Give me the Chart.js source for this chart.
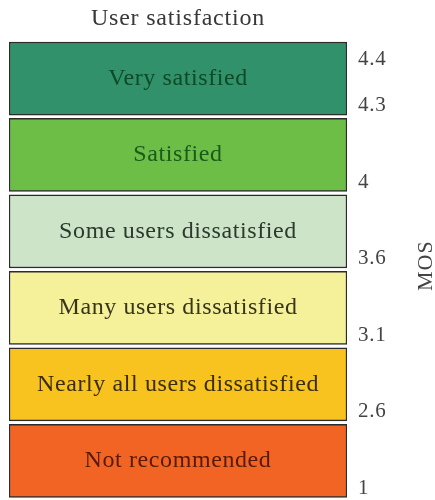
<!DOCTYPE html>
<html>
<head>
<meta charset="utf-8">
<script src="https://cdn.jsdelivr.net/npm/chart.js@4/dist/chart.umd.min.js"></script>
<style>
  html, body { margin: 0; padding: 0; background: #fff; }
  canvas { display: block; }
</style>
</head>
<body>
<canvas id="mosChart" width="435" height="500"></canvas>
<script>
// satisfaction bands, top to bottom
const bands = ['Very satisfied', 'Satisfied', 'Some users dissatisfied',
               'Many users dissatisfied', 'Nearly all users dissatisfied', 'Not recommended'];
// each band covers one level on the y axis: [lower, upper]
const bandLow  = [5, 4, 3, 2, 1, 0];
const bandHigh = [6, 5, 4, 3, 2, 1];
// MOS tick labels and the level they sit at
const mosLabels = ['1', '2.6', '3.1', '3.6', '4', '4.3', '4.4'];
const mosLevels = [0, 1, 2, 3, 4, 5, 5.6];

const fillColors = ['#30916a', '#6cbe46', '#cde4c8', '#f5f09a', '#f8c31e', '#f26423'];
const textColors = ['#0d4a26', '#1b5a18', '#2b3a2c', '#38341c', '#3a2c06', '#561a06'];

const GAP = 0.022;        // white gap between boxes, in level units
const SERIF = '"Liberation Serif", "DejaVu Serif", serif';

// slightly wider letter spacing for all canvas text
const spacing = {
    id: 'spacing',
    beforeDraw(chart) { chart.ctx.letterSpacing = '0.8px'; }
};

// text inside each box
const boxLabels = {
    id: 'boxLabels',
    afterDatasetsDraw(chart) {
        const ctx = chart.ctx;
        ctx.save();
        ctx.font = '24px ' + SERIF;
        ctx.letterSpacing = '0.6px';
        ctx.textAlign = 'center';
        ctx.textBaseline = 'middle';
        chart.data.datasets.forEach((ds, i) => {
            const bar = chart.getDatasetMeta(i).data[0];
            const c = bar.getCenterPoint();
            ctx.fillStyle = textColors[i];
            ctx.fillText(ds.label, c.x, c.y);
        });
        ctx.restore();
    }
};

// rotated axis title on the right (reads bottom to top)
const mosTitle = {
    id: 'mosTitle',
    afterDraw(chart) {
        const ctx = chart.ctx;
        const area = chart.chartArea;
        ctx.save();
        ctx.translate(426, (area.top + area.bottom) / 2 - 4);
        ctx.rotate(-Math.PI / 2);
        ctx.font = '22px ' + SERIF;
        ctx.letterSpacing = '1px';
        ctx.fillStyle = '#444';
        ctx.textAlign = 'center';
        ctx.textBaseline = 'middle';
        ctx.fillText('MOS', 0, 0);
        ctx.restore();
    }
};

const datasets = bands.map((name, i) => ({
    label: name,
    data: [[bandLow[i] + GAP, bandHigh[i] - GAP]],
    backgroundColor: fillColors[i],
    borderColor: '#2b2b2b',
    borderWidth: 1.5,
    borderSkipped: false,
    barPercentage: 1,
    categoryPercentage: 1,
    grouped: false
}));

new Chart(document.getElementById('mosChart'), {
    type: 'bar',
    data: { labels: ['MOS'], datasets: datasets },
    options: {
        responsive: false,
        animation: false,
        layout: { padding: { left: 9, right: 0, top: 0, bottom: 1 } },
        plugins: {
            legend: { display: false },
            tooltip: { enabled: false },
            title: {
                display: true,
                text: 'User satisfaction',
                fullSize: false,
                color: '#383838',
                font: { family: SERIF, size: 24, weight: 'normal' },
                padding: { top: 4, bottom: 7.5 }
            }
        },
        scales: {
            x: { display: false },
            y: {
                position: 'right',
                min: 0,
                max: 6,
                grid: { display: false, drawTicks: false },
                border: { display: false },
                afterBuildTicks(scale) {
                    scale.ticks = mosLevels.map(v => ({ value: v }));
                },
                afterFit(scale) {
                    // fixed axis width, and no extra room for the end labels
                    scale.width = 88;
                    scale.paddingTop = 0;
                    scale.paddingBottom = 0;
                },
                ticks: {
                    padding: 11,
                    labelOffset: -11,
                    color: '#444',
                    font: { family: SERIF, size: 21 },
                    callback: (v, idx) => mosLabels[idx]
                }
            }
        }
    },
    plugins: [spacing, boxLabels, mosTitle]
});
</script>
</body>
</html>
